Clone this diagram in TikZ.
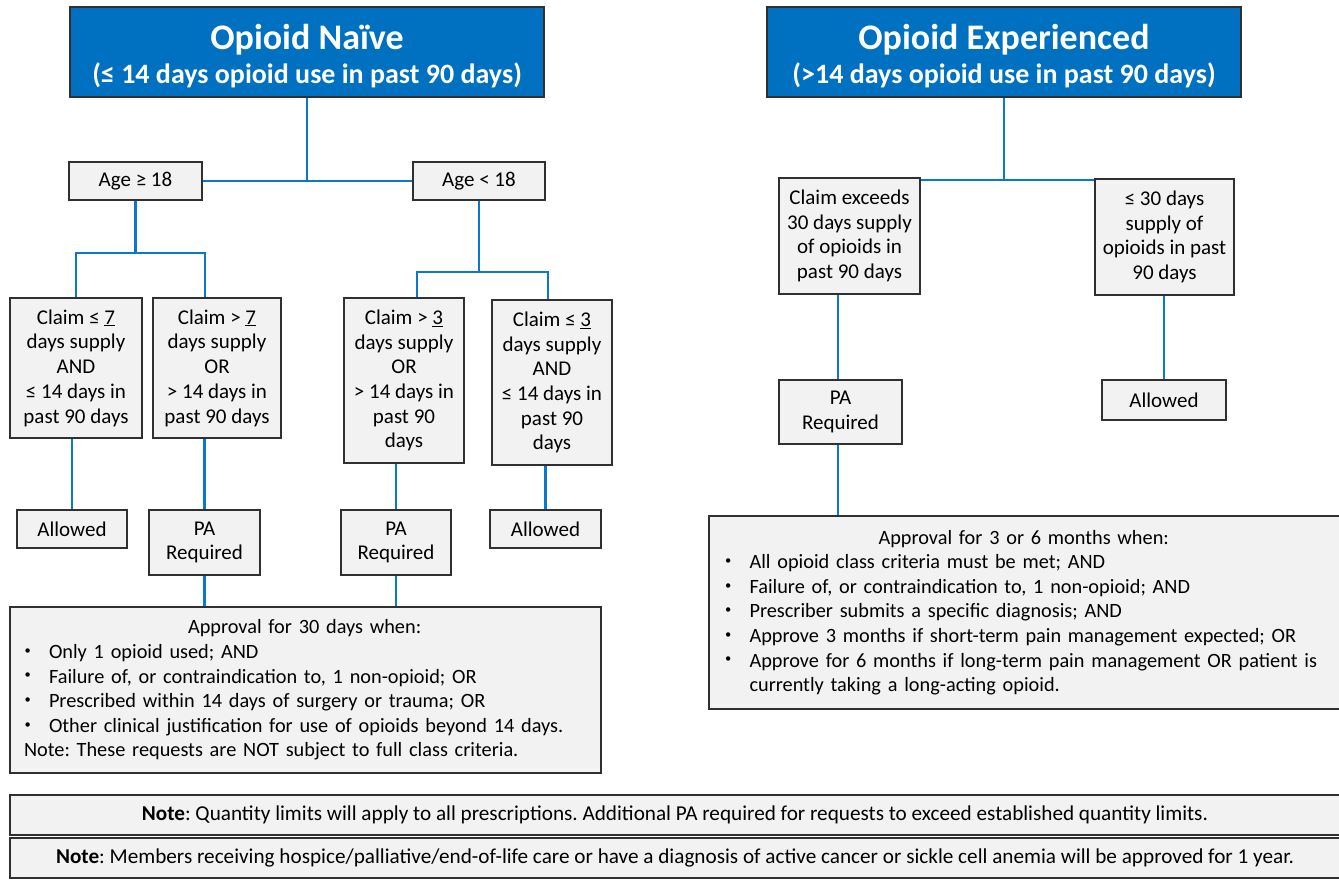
\documentclass[tikz,border=0pt]{standalone}
\usepackage{fontspec}
\setmainfont{Carlito}
\frenchspacing
\definecolor{hdrblue}{HTML}{0070C0}
\definecolor{lineblue}{HTML}{0A78CC}
\definecolor{boxgray}{HTML}{F2F2F2}
\definecolor{edgegray}{HTML}{303030}
\tikzset{
  box/.style={draw=edgegray, line width=1.4pt, fill=boxgray, inner sep=0pt, align=center,
    font=\fontsize{21}{24.7}\selectfont},
  hdr/.style={draw=edgegray, line width=1.2pt, fill=hdrblue, text=white, inner sep=0pt, align=center},
  conn/.style={draw=lineblue, line width=2.9pt},
  listbox/.style={box, align=left, font=\fontsize{20.3}{24.6}\selectfont},
}
\newcommand\mybul{\makebox[25pt][l]{\hspace*{0.5pt}\raisebox{0.2em}{\fontsize{12.5}{12.5}\selectfont\textbullet}}}
\newcommand\bitem[1]{\hangindent=25pt\hangafter=1\noindent\mybul#1\par}
\newcommand\hdrtext[2]{\raisebox{-6.5pt}[0pt][0pt]{\begin{tabular}{@{}c@{}}{\fontsize{36}{40}\selectfont\bfseries #1}\\[9pt]{\fontsize{28}{28}\selectfont\bfseries #2}\end{tabular}}}
\begin{document}
\begin{tikzpicture}[x=1pt,y=-1pt]
\useasboundingbox (0,0) rectangle (1339,879);
% headers
\node[hdr, minimum width=474, minimum height=90] (nh) at (307,52) {\hdrtext{Opioid Naïve}{(≤ 14 days opioid use in past 90 days)}};
\node[hdr, minimum width=474, minimum height=90] (eh) at (1004,52) {\hdrtext{Opioid Experienced}{(>14 days opioid use in past 90 days)}};
% naive tree
\node[box, minimum width=133, minimum height=38] (age1) at (135.5,181) {Age ≥ 18};
\node[box, minimum width=132, minimum height=38] (age2) at (479,181) {Age < 18};
\node[box, minimum width=132, minimum height=140] (a1) at (76,368) {Claim ≤ \underline{7}\\days supply\\AND\\≤ 14 days in\\past 90 days};
\node[box, minimum width=128, minimum height=140] (a2) at (217,368) {Claim > \underline{7}\\days supply\\OR\\> 14 days in\\past 90 days};
\node[box, minimum width=120, minimum height=165] (b1) at (404,380.5) {Claim > \underline{3}\\days supply\\OR\\> 14 days in\\past 90\\days};
\node[box, minimum width=120, minimum height=165] (b2) at (552,382.5) {Claim ≤ \underline{3}\\days supply\\AND\\≤ 14 days in\\past 90\\days};
\node[box, minimum width=110, minimum height=38] (al1) at (72,529) {Allowed};
\node[box, minimum width=111, minimum height=65] (pa1) at (204.5,542.5) {PA\\Required};
\node[box, minimum width=110, minimum height=65] (pa2) at (396,542.5) {PA\\Required};
\node[box, minimum width=111, minimum height=38] (al2) at (545.5,529) {Allowed};
\node[listbox, text width=563, inner xsep=14pt, minimum height=166] (apl) at (305.5,690) {%
\hspace*{164pt}Approval for 30 days when:\par
\bitem{Only 1 opioid used; AND}
\bitem{Failure of, or contraindication to, 1 non-opioid; OR}
\bitem{Prescribed within 14 days of surgery or trauma; OR}
\bitem{Other clinical justification for use of opioids beyond 14 days.}
\noindent Note: These requests are NOT subject to full class criteria.\par};
% experienced tree
\node[box, minimum width=141, minimum height=116] (c1) at (849.5,236) {Claim exceeds\\30 days supply\\of opioids in\\past 90 days};
\node[box, minimum width=139, minimum height=116] (c2) at (1164.5,237) {≤ 30 days\\supply of\\opioids in past\\90 days};
\node[box, minimum width=123, minimum height=64] (pa3) at (840.5,412) {PA\\Required};
\node[box, minimum width=124, minimum height=40] (al3) at (1164,400) {Allowed};
\node[listbox, text width=600, inner xsep=15.5pt, minimum height=193] (apr) at (1024.5,612.5) {%
\hspace*{154pt}Approval for 3 or 6 months when:\par
\bitem{All opioid class criteria must be met; AND}
\bitem{Failure of, or contraindication to, 1 non-opioid; AND}
\bitem{Prescriber submits a specific diagnosis; AND}
\bitem{Approve 3 months if short-term pain management expected; OR}
\bitem{Approve for 6 months if long-term pain management OR patient is\newline currently taking a long-acting opioid.}};
% notes
\node[box, minimum width=1330, minimum height=40, font=\fontsize{21.2}{24}\selectfont] (n1) at (675,815) {\textbf{Note}: Quantity limits will apply to all prescriptions. Additional PA required for requests to exceed established quantity limits.};
\node[box, minimum width=1330, minimum height=40, font=\fontsize{21.2}{24}\selectfont] (n2) at (675,858) {\textbf{Note}: Members receiving hospice/palliative/end-of-life care or have a diagnosis of active cancer or sickle cell anemia will be approved for 1 year.};
% connectors naive
\draw[conn] (nh.south) -- (nh.south |- age1.east);
\draw[conn] (age1.east) -- (age2.west);
\coordinate (j1) at (age1.south |- 0,253);
\draw[conn] (age1.south) -- (j1);
\draw[conn] (a1.north) |- (j1) -| ([xshift=-12pt]a2.north);
\coordinate (j2) at (age2.south |- 0,272);
\draw[conn] (age2.south) -- (j2);
\draw[conn] ([xshift=13pt]b1.north) |- (j2) -| ([xshift=-4pt]b2.north);
\draw[conn] (al1.north) -- (al1.north |- a1.south);
\draw[conn] (pa1.north) -- (pa1.north |- a2.south);
\draw[conn] (pa2.north) -- (pa2.north |- b1.south);
\draw[conn] (al2.north) -- (al2.north |- b2.south);
\draw[conn] (pa1.south) -- (pa1.south |- apl.north);
\draw[conn] (pa2.south) -- (pa2.south |- apl.north);
% connectors experienced
\coordinate (j3) at (eh.south |- 0,180);
\draw[conn] (eh.south) -- (j3);
\draw[conn] (j3 -| c1.east) -- (j3 -| c2.west);
\coordinate (k3) at ([xshift=-2.5pt]pa3.north);
\draw[conn] (k3) -- (k3 |- c1.south);
\draw[conn] (al3.north) -- (al3.north |- c2.south);
\coordinate (k4) at ([xshift=-2.5pt]pa3.south);
\draw[conn] (k4) -- (k4 |- apr.north);
\end{tikzpicture}
\end{document}
